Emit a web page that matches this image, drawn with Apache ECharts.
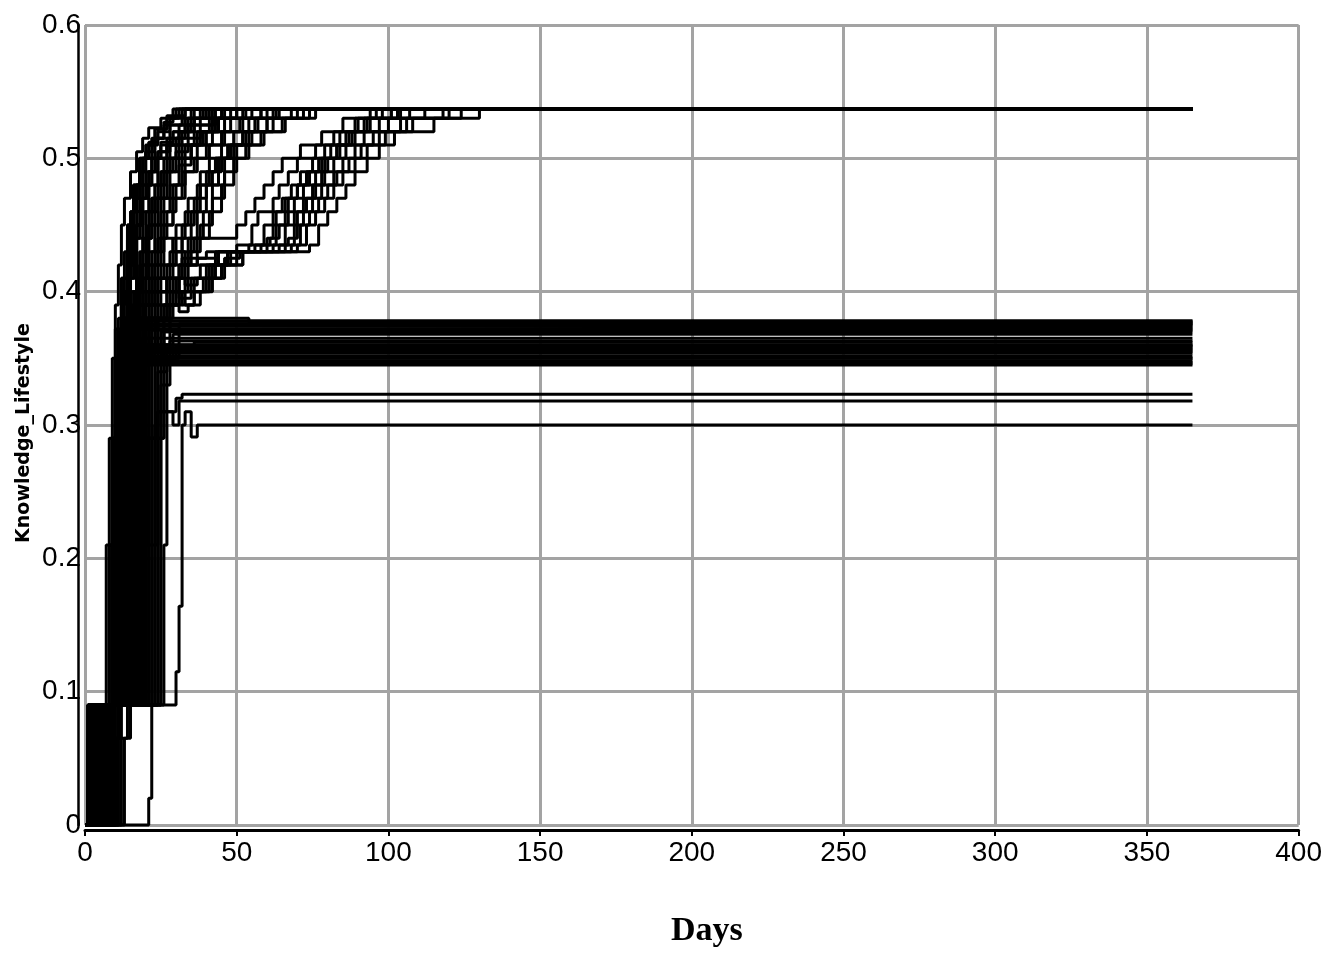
<!DOCTYPE html>
<html>
<head>
<meta charset="utf-8">
<script src="https://cdn.jsdelivr.net/npm/echarts@6/dist/echarts.min.js"></script>
<style>html,body{margin:0;padding:0;background:#fff}#c{width:1325px;height:953px}</style>
</head>
<body>
<div id="c"></div>
<script>
// Axis settings
var xMin = 0, xMax = 400, xStep = 50;
var yMin = 0, yMax = 0.6, yStep = 0.1;
var xName = 'Days';
var yName = 'Knowledge_Lifestyle';

// Runs converging fast to the top level
var fastRuns = [
  [[0,0],[1,0.065],[3,0.09],[7,0.21],[8,0.29],[9,0.35],[10,0.39],[11,0.42],[12,0.45],[13,0.47],[15,0.49],[17,0.505],[19,0.515],[21,0.523],[25,0.53],[30,0.537],[365,0.537]],
  [[0,0],[2,0.09],[8,0.21],[9,0.29],[10,0.35],[11,0.38],[12,0.41],[14,0.44],[15,0.46],[17,0.48],[19,0.5],[22,0.515],[26,0.525],[32,0.537],[365,0.537]],
  [[0,0],[1,0.09],[9,0.29],[10,0.35],[12,0.39],[13,0.43],[15,0.46],[17,0.48],[18,0.5],[21,0.51],[24,0.52],[28,0.53],[35,0.537],[365,0.537]],
  [[0,0],[3,0.065],[5,0.09],[10,0.21],[11,0.3],[12,0.36],[14,0.4],[15,0.43],[17,0.45],[19,0.47],[21,0.49],[24,0.505],[27,0.515],[31,0.525],[36,0.537],[365,0.537]],
  [[0,0],[4,0.09],[11,0.29],[12,0.35],[13,0.38],[15,0.42],[17,0.45],[19,0.48],[22,0.5],[25,0.51],[29,0.52],[33,0.53],[40,0.537],[365,0.537]],
  [[0,0],[2,0.065],[6,0.09],[12,0.21],[13,0.29],[14,0.35],[16,0.39],[18,0.43],[20,0.46],[23,0.48],[26,0.5],[30,0.515],[34,0.525],[38,0.537],[365,0.537]],
  [[0,0],[5,0.09],[13,0.29],[14,0.36],[15,0.4],[17,0.44],[19,0.47],[21,0.49],[24,0.505],[28,0.515],[33,0.525],[42,0.537],[365,0.537]],
  [[0,0],[3,0.09],[14,0.21],[15,0.35],[17,0.39],[19,0.42],[21,0.45],[23,0.47],[26,0.49],[29,0.5],[33,0.51],[38,0.52],[44,0.53],[50,0.537],[365,0.537]],
  [[0,0],[6,0.065],[8,0.09],[15,0.29],[16,0.37],[18,0.41],[20,0.44],[22,0.47],[25,0.49],[28,0.51],[32,0.52],[36,0.53],[45,0.537],[365,0.537]],
  [[0,0],[7,0.09],[16,0.21],[17,0.3],[18,0.36],[20,0.4],[22,0.43],[25,0.46],[28,0.48],[31,0.495],[35,0.51],[40,0.52],[46,0.53],[55,0.537],[365,0.537]],
  [[0,0],[1,0.09],[10,0.21],[11,0.35],[13,0.4],[14,0.44],[16,0.47],[18,0.49],[20,0.505],[23,0.515],[26,0.527],[29,0.537],[365,0.537]],
  [[0,0],[2,0.09],[11,0.21],[12,0.29],[13,0.36],[14,0.42],[16,0.46],[18,0.49],[20,0.51],[23,0.522],[27,0.532],[33,0.537],[365,0.537]],
  [[0,0],[4,0.065],[8,0.09],[17,0.29],[18,0.35],[20,0.38],[22,0.41],[24,0.44],[27,0.46],[30,0.48],[33,0.5],[37,0.51],[42,0.52],[48,0.53],[58,0.537],[365,0.537]],
  [[0,0],[5,0.09],[18,0.21],[19,0.35],[21,0.39],[23,0.42],[26,0.45],[29,0.47],[32,0.49],[36,0.5],[40,0.51],[45,0.52],[52,0.53],[62,0.537],[365,0.537]],
  [[0,0],[3,0.09],[12,0.29],[13,0.35],[15,0.41],[17,0.45],[19,0.48],[22,0.5],[25,0.512],[29,0.52],[34,0.53],[39,0.537],[365,0.537]],
  [[0,0],[6,0.09],[14,0.29],[15,0.35],[17,0.4],[19,0.43],[21,0.46],[24,0.48],[27,0.5],[31,0.51],[36,0.52],[41,0.53],[48,0.537],[365,0.537]],
  [[0,0],[2,0.065],[7,0.09],[19,0.29],[20,0.35],[23,0.38],[27,0.4],[31,0.42],[35,0.44],[39,0.46],[42,0.48],[46,0.5],[50,0.51],[55,0.52],[62,0.53],[72,0.537],[365,0.537]],
  [[0,0],[8,0.09],[20,0.21],[21,0.35],[24,0.38],[28,0.4],[33,0.42],[37,0.44],[41,0.46],[45,0.48],[49,0.5],[53,0.51],[58,0.52],[65,0.53],[76,0.537],[365,0.537]],
  [[0,0],[1,0.065],[4,0.09],[9,0.21],[10,0.3],[11,0.36],[12,0.4],[14,0.45],[16,0.48],[18,0.5],[21,0.512],[24,0.522],[27,0.53],[31,0.537],[365,0.537]],
  [[0,0],[5,0.09],[13,0.21],[14,0.35],[16,0.38],[18,0.41],[21,0.43],[23,0.45],[25,0.47],[28,0.49],[31,0.5],[35,0.51],[39,0.52],[43,0.53],[52,0.537],[365,0.537]],
  [[0,0],[9,0.09],[22,0.29],[23,0.36],[26,0.39],[30,0.41],[34,0.43],[38,0.45],[42,0.47],[46,0.49],[50,0.5],[54,0.51],[59,0.52],[66,0.53],[74,0.537],[365,0.537]],
  [[0,0],[3,0.09],[15,0.21],[16,0.29],[17,0.35],[19,0.39],[21,0.42],[24,0.45],[26,0.47],[29,0.48],[32,0.5],[35,0.51],[38,0.52],[44,0.53],[53,0.537],[365,0.537]],
  [[0,0],[4,0.09],[16,0.29],[17,0.36],[20,0.39],[24,0.41],[28,0.43],[32,0.45],[36,0.47],[40,0.49],[43,0.5],[47,0.51],[52,0.52],[57,0.53],[64,0.537],[365,0.537]],
  [[0,0],[6,0.065],[9,0.09],[18,0.29],[19,0.35],[22,0.38],[25,0.41],[29,0.44],[33,0.46],[37,0.48],[41,0.5],[45,0.51],[49,0.52],[54,0.53],[60,0.537],[365,0.537]],
  [[0,0],[2,0.09],[13,0.21],[14,0.35],[16,0.39],[18,0.42],[21,0.45],[24,0.47],[27,0.49],[30,0.505],[34,0.515],[38,0.525],[43,0.537],[365,0.537]],
  [[0,0],[1,0.09],[11,0.29],[12,0.37],[14,0.41],[16,0.44],[18,0.46],[21,0.48],[24,0.5],[27,0.51],[31,0.52],[36,0.53],[46,0.537],[365,0.537]],
  [[0,0],[5,0.065],[7,0.09],[20,0.29],[21,0.36],[24,0.4],[27,0.42],[30,0.45],[34,0.47],[38,0.49],[43,0.5],[48,0.51],[53,0.52],[60,0.53],[68,0.537],[365,0.537]],
  [[0,0],[3,0.09],[10,0.29],[11,0.37],[12,0.41],[14,0.45],[16,0.48],[19,0.5],[23,0.515],[28,0.525],[33,0.537],[365,0.537]],
  [[0,0],[8,0.065],[11,0.09],[23,0.21],[24,0.35],[26,0.38],[29,0.41],[32,0.44],[35,0.46],[38,0.48],[42,0.49],[45,0.5],[49,0.51],[54,0.52],[60,0.53],[70,0.537],[365,0.537]],
  [[0,0],[2,0.09],[14,0.29],[15,0.36],[17,0.4],[19,0.44],[22,0.47],[25,0.49],[28,0.5],[32,0.51],[37,0.52],[42,0.53],[50,0.537],[365,0.537]],
  [[0,0],[6,0.09],[17,0.21],[18,0.36],[20,0.4],[23,0.43],[26,0.45],[29,0.47],[33,0.49],[37,0.5],[41,0.51],[46,0.52],[51,0.53],[58,0.537],[365,0.537]],
  [[0,0],[4,0.065],[6,0.09],[12,0.29],[13,0.38],[15,0.43],[17,0.47],[20,0.49],[23,0.5],[27,0.51],[31,0.52],[35,0.53],[41,0.537],[365,0.537]],
  [[0,0],[10,0.09],[25,0.29],[26,0.36],[28,0.39],[31,0.42],[34,0.44],[37,0.46],[40,0.48],[44,0.5],[48,0.51],[52,0.52],[56,0.53],[63,0.537],[365,0.537]]
];

// Runs that stall near 0.43 and climb late to the top level
var slowRuns = [
  [[0,0],[2,0.09],[10,0.21],[11,0.35],[13,0.38],[16,0.4],[20,0.41],[26,0.42],[32,0.425],[40,0.43],[50,0.435],[55,0.45],[57,0.46],[62,0.47],[64,0.48],[67,0.49],[70,0.5],[76,0.51],[82,0.52],[89,0.53],[98,0.537],[365,0.537]],
  [[0,0],[4,0.09],[12,0.29],[13,0.35],[15,0.38],[19,0.4],[24,0.41],[30,0.4],[34,0.41],[38,0.42],[44,0.43],[56,0.435],[59,0.45],[63,0.46],[66,0.47],[70,0.48],[73,0.49],[77,0.5],[81,0.51],[86,0.52],[94,0.53],[104,0.537],[365,0.537]],
  [[0,0],[1,0.065],[6,0.09],[14,0.21],[15,0.35],[18,0.38],[22,0.39],[29,0.4],[33,0.39],[36,0.4],[40,0.41],[45,0.42],[50,0.43],[60,0.435],[63,0.45],[66,0.46],[69,0.47],[72,0.48],[76,0.49],[80,0.5],[84,0.51],[89,0.52],[97,0.53],[107,0.537],[365,0.537]],
  [[0,0],[3,0.09],[13,0.29],[14,0.36],[17,0.39],[21,0.4],[27,0.41],[31,0.395],[35,0.4],[39,0.41],[43,0.42],[48,0.43],[62,0.435],[66,0.45],[69,0.46],[72,0.47],[75,0.48],[78,0.49],[82,0.5],[86,0.51],[92,0.52],[100,0.53],[112,0.537],[365,0.537]],
  [[0,0],[5,0.09],[16,0.29],[17,0.35],[20,0.38],[24,0.39],[31,0.385],[34,0.39],[38,0.4],[42,0.41],[46,0.42],[52,0.43],[66,0.435],[69,0.45],[72,0.46],[75,0.47],[78,0.48],[82,0.49],[85,0.5],[89,0.51],[95,0.52],[104,0.53],[118,0.537],[365,0.537]],
  [[0,0],[7,0.09],[18,0.21],[19,0.36],[22,0.38],[27,0.4],[32,0.39],[36,0.4],[41,0.41],[45,0.42],[52,0.43],[70,0.435],[73,0.45],[76,0.46],[79,0.47],[82,0.48],[85,0.49],[89,0.5],[93,0.51],[99,0.52],[108,0.53],[124,0.537],[365,0.537]],
  [[0,0],[2,0.065],[8,0.09],[17,0.29],[18,0.35],[21,0.38],[26,0.39],[31,0.4],[35,0.41],[40,0.42],[47,0.43],[74,0.435],[77,0.45],[80,0.46],[83,0.47],[86,0.48],[89,0.49],[93,0.5],[97,0.51],[102,0.52],[115,0.53],[130,0.537],[365,0.537]],
  [[0,0],[1,0.09],[9,0.21],[10,0.35],[12,0.38],[15,0.4],[20,0.41],[25,0.42],[30,0.43],[36,0.44],[45,0.44],[50,0.45],[53,0.46],[56,0.47],[59,0.48],[62,0.49],[65,0.5],[71,0.51],[78,0.52],[85,0.53],[94,0.537],[365,0.537]],
  [[0,0],[3,0.065],[6,0.09],[15,0.29],[16,0.36],[19,0.38],[23,0.4],[28,0.41],[33,0.405],[37,0.41],[42,0.42],[47,0.43],[58,0.435],[61,0.44],[64,0.45],[67,0.47],[70,0.48],[74,0.49],[78,0.5],[83,0.51],[88,0.52],[92,0.53],[101,0.537],[365,0.537]],
  [[0,0],[4,0.09],[11,0.21],[12,0.35],[14,0.39],[17,0.41],[21,0.42],[25,0.44],[29,0.43],[33,0.42],[38,0.42],[43,0.43],[54,0.435],[60,0.44],[62,0.46],[65,0.47],[68,0.48],[71,0.49],[75,0.5],[79,0.51],[84,0.52],[90,0.53],[96,0.537],[365,0.537]],
  [[0,0],[9,0.09],[24,0.29],[25,0.37],[28,0.39],[32,0.4],[36,0.41],[41,0.42],[46,0.425],[51,0.43],[64,0.435],[67,0.44],[70,0.46],[73,0.47],[76,0.48],[79,0.5],[83,0.51],[87,0.52],[93,0.53],[103,0.537],[365,0.537]],
  [[0,0],[5,0.09],[14,0.29],[15,0.36],[18,0.39],[22,0.4],[27,0.41],[32,0.42],[37,0.425],[44,0.43],[68,0.435],[71,0.45],[74,0.46],[77,0.47],[80,0.48],[83,0.49],[87,0.5],[91,0.51],[97,0.52],[106,0.53],[120,0.537],[365,0.537]]
];

// Runs that settle in the 0.345-0.38 band
var midRuns = [
  [[0,0],[1,0.09],[8,0.21],[9,0.29],[10,0.35],[12,0.37],[16,0.378],[365,0.378]],
  [[0,0],[2,0.065],[4,0.09],[9,0.29],[11,0.35],[14,0.376],[365,0.376]],
  [[0,0],[3,0.09],[10,0.21],[12,0.35],[15,0.375],[365,0.375]],
  [[0,0],[5,0.09],[11,0.29],[13,0.36],[18,0.38],[54,0.377],[365,0.377]],
  [[0,0],[1,0.065],[6,0.09],[12,0.21],[14,0.35],[18,0.374],[365,0.374]],
  [[0,0],[7,0.09],[13,0.29],[15,0.35],[20,0.372],[45,0.373],[365,0.373]],
  [[0,0],[4,0.09],[14,0.21],[16,0.35],[22,0.371],[365,0.371]],
  [[0,0],[2,0.09],[15,0.29],[17,0.36],[24,0.378],[365,0.378]],
  [[0,0],[8,0.09],[16,0.21],[18,0.35],[26,0.37],[365,0.37]],
  [[0,0],[3,0.065],[6,0.09],[17,0.29],[19,0.365],[365,0.365]],
  [[0,0],[9,0.09],[18,0.21],[20,0.35],[28,0.363],[365,0.363]],
  [[0,0],[1,0.09],[10,0.29],[11,0.35],[13,0.36],[365,0.36]],
  [[0,0],[2,0.09],[11,0.21],[12,0.358],[365,0.358]],
  [[0,0],[5,0.065],[7,0.09],[12,0.29],[13,0.356],[365,0.356]],
  [[0,0],[3,0.09],[13,0.21],[14,0.354],[365,0.354]],
  [[0,0],[6,0.09],[14,0.29],[15,0.352],[365,0.352]],
  [[0,0],[4,0.09],[15,0.21],[16,0.35],[365,0.35]],
  [[0,0],[7,0.09],[16,0.29],[17,0.348],[365,0.348]],
  [[0,0],[11,0.09],[17,0.21],[18,0.346],[365,0.346]],
  [[0,0],[8,0.09],[19,0.29],[20,0.355],[365,0.355]],
  [[0,0],[13,0.065],[15,0.09],[21,0.21],[22,0.35],[30,0.359],[365,0.359]],
  [[0,0],[9,0.09],[23,0.29],[24,0.34],[27,0.357],[365,0.357]],
  [[0,0],[2,0.065],[5,0.09],[18,0.29],[19,0.345],[365,0.345]],
  [[0,0],[6,0.09],[20,0.21],[21,0.36],[36,0.362],[365,0.362]],
  [[0,0],[10,0.09],[24,0.29],[25,0.33],[28,0.35],[365,0.35]],
  [[0,0],[4,0.09],[9,0.21],[10,0.372],[365,0.372]],
  [[0,0],[12,0.09],[26,0.21],[27,0.35],[29,0.368],[365,0.368]],
  [[0,0],[10,0.065],[14,0.09],[25,0.29],[26,0.36],[365,0.36]],
  [[0,0],[7,0.09],[22,0.21],[23,0.3],[24,0.35],[31,0.376],[365,0.376]],
  [[0,0],[3,0.09],[21,0.29],[22,0.347],[365,0.347]]
];

// Runs that settle low (about 0.30-0.32)
var lowRuns = [
  [[0,0],[6,0.09],[19,0.21],[20,0.29],[24,0.31],[30,0.32],[32,0.323],[365,0.323]],
  [[0,0],[11,0.09],[21,0.29],[24,0.31],[29,0.3],[31,0.318],[365,0.318]],
  [[0,0],[21,0.02],[22,0.09],[30,0.115],[31,0.164],[32,0.3],[33,0.31],[35,0.291],[37,0.3],[365,0.3]]
];

var allRuns = fastRuns.concat(slowRuns, midRuns, lowRuns);
var series = allRuns.map(function (run, i) {
  return {
    type: 'line',
    name: 'run' + (i + 1),
    step: 'end',
    data: run,
    symbol: 'none',
    silent: true,
    clip: false,
    lineStyle: { color: '#000', width: 3 }
  };
});

var chart = echarts.init(document.getElementById('c'), null, { renderer: 'canvas' });
chart.setOption({
  animation: false,
  backgroundColor: '#fff',
  grid: { left: 85, right: 25, top: 25, bottom: 127, containLabel: false },
  xAxis: {
    type: 'value', min: xMin, max: xMax, interval: xStep,
    offset: 5,
    name: xName, nameLocation: 'middle', nameGap: 84,
    nameTextStyle: { fontFamily: 'Liberation Serif', fontWeight: 'bold', fontSize: 34, color: '#000', padding: [0, 0, 0, 30] },
    axisLine: { show: true, onZero: false, lineStyle: { color: '#000', width: 3 } },
    axisTick: { show: true, length: 6, lineStyle: { color: '#000', width: 2 } },
    axisLabel: { color: '#000', fontFamily: 'Liberation Sans', fontSize: 28, margin: 9 },
    splitLine: { show: true, lineStyle: { color: '#a3a3a3', width: 3 } }
  },
  yAxis: {
    type: 'value', min: yMin, max: yMax, interval: yStep,
    offset: 7,
    name: yName, nameLocation: 'middle', nameGap: 44, nameRotate: 90,
    nameMoveOverlap: false,
    nameTextStyle: { fontFamily: 'DejaVu Sans', fontWeight: 'bold', fontSize: 19, color: '#000', padding: [0, 16, 0, 0] },
    axisLine: { show: true, onZero: false, lineStyle: { color: '#000', width: 2.5 } },
    axisTick: { show: false },
    axisLabel: { color: '#000', fontFamily: 'Liberation Sans', fontSize: 28, margin: -3 },
    splitLine: { show: true, lineStyle: { color: '#a3a3a3', width: 3 } }
  },
  series: series
});
</script>
</body>
</html>
